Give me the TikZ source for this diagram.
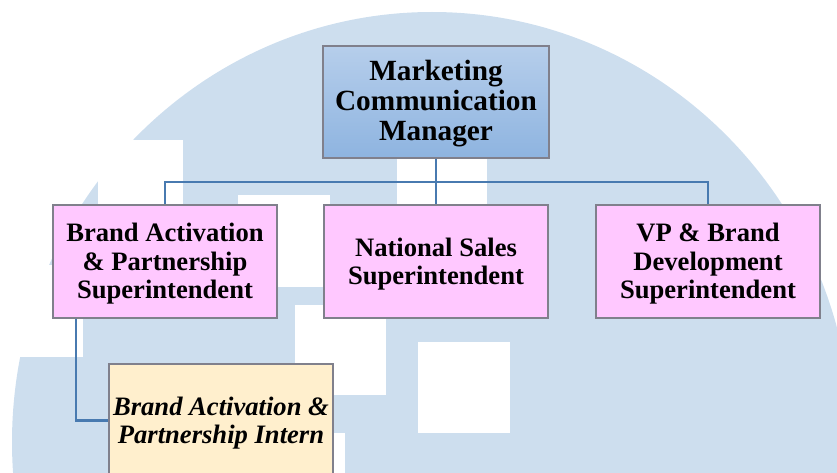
\documentclass[tikz,border=0pt]{standalone}
\usepackage{fontspec}
\setmainfont{Liberation Serif}
% centred multi-line label, set slightly below the optical centre
\newcommand\boxtext[1]{\raisebox{-3pt}[\height][\depth]{\begin{tabular}{@{}c@{}}#1\end{tabular}}}
\begin{document}
\begin{tikzpicture}[x=1pt,y=-1pt,
  box/.style={draw=boxline, line width=1.4pt, rectangle, inner sep=0pt,
    font=\bfseries\fontsize{26.6}{28.3}\selectfont},
  unit/.style={box, fill=pinkfill, minimum width=224pt, minimum height=113pt},
  head/.style={box, top color=headtop, bottom color=headbot, minimum width=226pt,
    minimum height=112pt, font=\bfseries\fontsize{29.3}{30}\selectfont},
  intern/.style={box, fill=creamfill, minimum width=224pt, minimum height=113pt,
    font=\bfseries\itshape\fontsize{26.6}{28.3}\selectfont},
  link/.style={draw=linkblue, line width=2.8pt},
  hole/.style={fill=white}]
\definecolor{boxline}{RGB}{128,128,140}
\definecolor{pinkfill}{RGB}{255,200,255}
\definecolor{creamfill}{RGB}{255,239,205}
\definecolor{headtop}{RGB}{182,206,235}
\definecolor{headbot}{RGB}{142,180,224}
\definecolor{linkblue}{RGB}{72,122,176}
\definecolor{markblue}{RGB}{205,222,238}
\useasboundingbox (0,0) rectangle (837,473);
% watermark: light disc with square cut-outs
\begin{scope}
  \clip (0,0) rectangle (837,473);
  \fill[markblue] (432,442) ellipse [x radius=420, y radius=430];
  \fill[hole] (98,140) rectangle (183,228);
  \fill[hole] (-7,265) rectangle (83,357);
  \fill[hole] (238,195) rectangle (330,287);
  \fill[hole] (295,305) rectangle (386,395);
  \fill[hole] (418,342) rectangle (510,433);
  \fill[hole] (255,433) rectangle (345,523);
  \fill[hole] (397,113) rectangle (487,215);
\end{scope}
% chart
\node[head] (mgr) at (436,102) {\boxtext{Marketing\\Communication\\Manager}};
\node[unit] (bap) at (165,261.5) {\boxtext{Brand Activation\\\& Partnership\\Superintendent}};
\node[unit] (nss) at (436,261.5) {\boxtext{National Sales\\Superintendent}};
\node[unit] (vpb) at (708,261.5) {\boxtext{VP \& Brand\\Development\\Superintendent}};
\node[intern] (int) at (221,420.5) {\boxtext{Brand Activation \&\\Partnership Intern}};
\coordinate (bus) at (436,182);
\draw[link] (mgr.south) -- (bus);
\draw[link] (bap.north) |- (bus) -| (vpb.north);
\draw[link] (bus) -- (nss.north);
\draw[link] ([xshift=-89pt]bap.south) |- (int.west);
\end{tikzpicture}
\end{document}
